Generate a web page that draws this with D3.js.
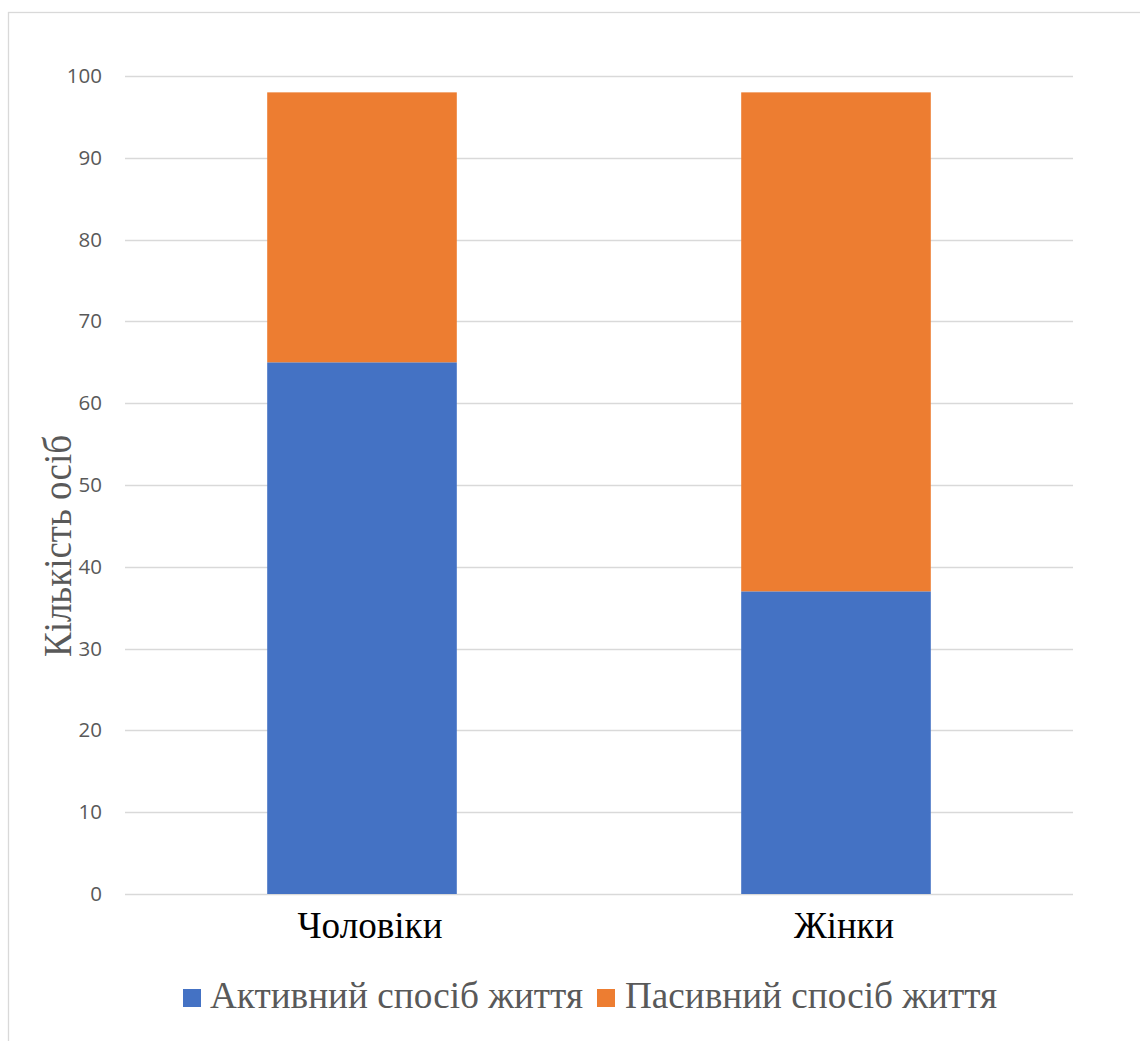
<!DOCTYPE html>
<html>
<head>
<meta charset="utf-8">
<script src="https://cdn.jsdelivr.net/npm/d3@7"></script>
<style>
  html, body { margin: 0; padding: 0; background: #fff; }
  svg { display: block; }
</style>
</head>
<body>
<svg id="chart" width="1140" height="1041"></svg>
<script>
// Lifestyle by sex: stacked counts of people
const categories = ["Чоловіки", "Жінки"];
const seriesNames = ["Активний спосіб життя", "Пасивний спосіб життя"];
const activeValues = [65, 37];
const passiveValues = [33, 61];
const yTicks = [0, 10, 20, 30, 40, 50, 60, 70, 80, 90, 100];
const yTitle = "Кількість осіб";

const colors = ["#4472C4", "#ED7D31"];
const textGray = "#595959";
const gridGray = "#D9D9D9";

const svg = d3.select("#chart");

// outer frame
svg.append("rect")
  .attr("x", 8.5).attr("y", 12.5)
  .attr("width", 1200).attr("height", 1100)
  .attr("fill", "none").attr("stroke", gridGray).attr("stroke-width", 1.3);

const plot = { left: 125, right: 1073, top: 76, bottom: 894 };

const x = d3.scaleBand()
  .domain(categories)
  .range([plot.left, plot.right])
  .paddingInner(0.6)
  .paddingOuter(0.3);

const y = d3.scaleLinear()
  .domain([0, 100])
  .range([plot.bottom, plot.top]);

// gridlines
svg.append("g")
  .selectAll("line")
  .data(yTicks)
  .join("line")
  .attr("x1", plot.left).attr("x2", plot.right)
  .attr("y1", d => Math.round(y(d)) + 0.5).attr("y2", d => Math.round(y(d)) + 0.5)
  .attr("stroke", gridGray).attr("stroke-width", 1.3);

// y tick labels
const yAxis = d3.axisLeft(y).tickValues(yTicks).tickSize(0).tickPadding(0);
const yg = svg.append("g")
  .attr("transform", `translate(102,0)`)
  .call(yAxis);
yg.select(".domain").remove();
yg.selectAll("text")
  .attr("font-family", "'Open Sans', sans-serif")
  .attr("font-size", 20.5)
  .attr("fill", textGray);

// stacked bars
const rows = categories.map((c, i) => ({ cat: c, active: activeValues[i], passive: passiveValues[i] }));
const stack = d3.stack().keys(["active", "passive"]);
const layers = stack(rows);

svg.append("g")
  .selectAll("g")
  .data(layers)
  .join("g")
  .attr("fill", (d, i) => colors[i])
  .selectAll("rect")
  .data(d => d)
  .join("rect")
  .attr("x", d => x(d.data.cat))
  .attr("width", x.bandwidth())
  .attr("y", d => y(d[1]))
  .attr("height", d => y(d[0]) - y(d[1]));

// category labels
const catWidths = { "Чоловіки": 145, "Жінки": 100 };
svg.append("g")
  .selectAll("text")
  .data(categories)
  .join("text")
  .attr("x", d => x(d) + x.bandwidth() / 2 + 8)
  .attr("y", 938)
  .attr("text-anchor", "middle")
  .attr("font-family", "'Liberation Serif', 'Times New Roman', serif")
  .attr("font-size", 38)
  .attr("textLength", d => catWidths[d])
  .attr("lengthAdjust", "spacingAndGlyphs")
  .attr("fill", "#000")
  .text(d => d);

// y axis title
svg.append("text")
  .attr("transform", `translate(71,546) rotate(-90)`)
  .attr("text-anchor", "middle")
  .attr("font-family", "'Liberation Serif', 'Times New Roman', serif")
  .attr("font-size", 40)
  .attr("textLength", 222)
  .attr("lengthAdjust", "spacingAndGlyphs")
  .attr("fill", textGray)
  .text(yTitle);

// legend
const legendItems = [
  { name: seriesNames[0], color: colors[0], sx: 183, tx: 210, w: 373 },
  { name: seriesNames[1], color: colors[1], sx: 597, tx: 625, w: 372 }
];
const lg = svg.append("g");
lg.selectAll("rect")
  .data(legendItems)
  .join("rect")
  .attr("x", d => d.sx).attr("y", 989)
  .attr("width", 18).attr("height", 18)
  .attr("fill", d => d.color);
lg.selectAll("text")
  .data(legendItems)
  .join("text")
  .attr("x", d => d.tx).attr("y", 1008)
  .attr("font-family", "'Liberation Serif', 'Times New Roman', serif")
  .attr("font-size", 37)
  .attr("textLength", d => d.w)
  .attr("lengthAdjust", "spacingAndGlyphs")
  .attr("fill", textGray)
  .text(d => d.name);
</script>
</body>
</html>
